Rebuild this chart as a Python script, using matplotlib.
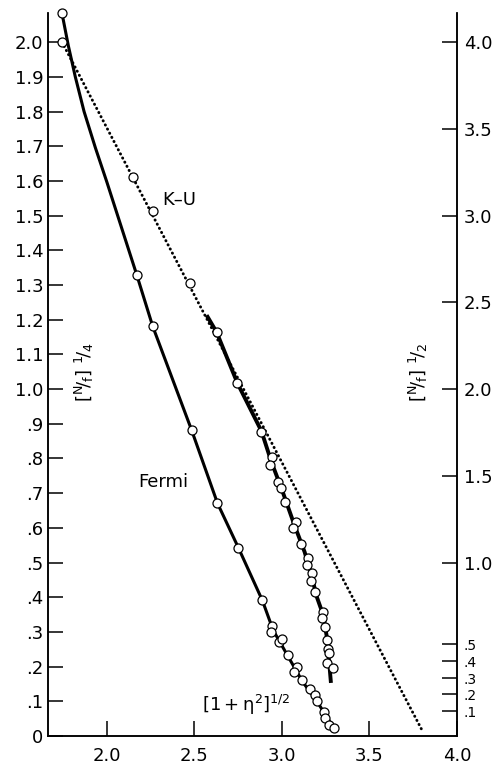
import numpy as np
import matplotlib
matplotlib.use('Agg')
import matplotlib.pyplot as plt

plt.rcParams['font.family'] = 'DejaVu Sans'

# Fermi curve (solid) - line shape and measured points
fermi_line_x = [1.744, 1.78, 1.82, 1.87, 1.935, 2.0, 2.171, 2.262, 2.484,
                2.632, 2.752, 2.889, 2.95, 3.04, 3.12, 3.2, 3.30]
fermi_line_y = [2.083, 1.99, 1.90, 1.80, 1.695, 1.597, 1.329, 1.181, 0.882,
                0.671, 0.542, 0.390, 0.305, 0.225, 0.155, 0.100, 0.020]
fermi_pts_x = [1.744, 2.171, 2.262, 2.484, 2.632, 2.752, 2.889, 2.946, 2.940, 2.986, 3.003,
               3.037, 3.088, 3.071, 3.117, 3.162, 3.191, 3.202, 3.242, 3.248, 3.271, 3.299]
fermi_pts_y = [2.083, 1.329, 1.181, 0.882, 0.671, 0.542, 0.392, 0.317, 0.300, 0.271, 0.280,
               0.233, 0.199, 0.184, 0.161, 0.135, 0.118, 0.101, 0.069, 0.052, 0.032, 0.023]

# K-U (dotted straight line)
ku_line_x = [1.744, 3.80]
ku_line_y = [2.0, 0.017]
ku_pts_x = [1.744, 2.148, 2.262, 2.473, 2.627]
ku_pts_y = [2.0, 1.611, 1.513, 1.305, 1.164]

# [N/f]^1/2 curve (thick solid, right axis)
mid_line_x = [2.57, 2.627, 2.746, 2.883, 2.94, 3.0, 3.07, 3.13, 3.17, 3.20, 3.235, 3.255, 3.265, 3.272, 3.28]
mid_line_y = [1.213, 1.164, 1.017, 0.879, 0.79, 0.71, 0.61, 0.53, 0.46, 0.40, 0.35, 0.29, 0.24, 0.20, 0.153]
mid_pts_x = [2.746, 2.883, 2.946, 2.934, 2.980, 2.997, 3.020, 3.083, 3.066, 3.111, 3.151, 3.145,
             3.174, 3.168, 3.191, 3.236, 3.231, 3.248, 3.259, 3.265, 3.271, 3.259, 3.293]
mid_pts_y = [1.017, 0.876, 0.804, 0.781, 0.732, 0.715, 0.674, 0.617, 0.599, 0.553, 0.513, 0.493,
             0.470, 0.447, 0.415, 0.357, 0.340, 0.314, 0.277, 0.251, 0.239, 0.210, 0.196]

left_ticks = [0.0, 0.1, 0.2, 0.3, 0.4, 0.5, 0.6, 0.7, 0.8, 0.9, 1.0, 1.1, 1.2, 1.3, 1.4, 1.5,
              1.6, 1.7, 1.8, 1.9, 2.0]
left_labels = ['0', '.1', '.2', '.3', '.4', '.5', '.6', '.7', '.8', '.9', '1.0', '1.1', '1.2',
               '1.3', '1.4', '1.5', '1.6', '1.7', '1.8', '1.9', '2.0']
right_major = [1.0, 1.5, 2.0, 2.5, 3.0, 3.5, 4.0]
right_small_pos = [0.144, 0.242, 0.334, 0.432, 0.53]
right_small_labels = ['.1', '.2', '.3', '.4', '.5']
x_ticks = [2.0, 2.5, 3.0, 3.5, 4.0]

fig = plt.figure(figsize=(4.97, 7.66), dpi=100)
ax = fig.add_axes([48/497, 30/766, 409/497, 723/766])

ax.plot(fermi_line_x, fermi_line_y, color='k', lw=2.2, solid_capstyle='butt',
        solid_joinstyle='round', zorder=3)
ax.plot(ku_line_x, ku_line_y, color='k', lw=2.1, linestyle=(0, (0.1, 1.5)),
        dash_capstyle='round', zorder=3)
ax.plot(mid_line_x, mid_line_y, color='k', lw=2.8, solid_capstyle='butt',
        solid_joinstyle='round', zorder=3)

mk = dict(linestyle='none', marker='o', ms=6.5, mfc='white', mec='k', mew=0.9,
          zorder=5, clip_on=False)
ax.plot(fermi_pts_x, fermi_pts_y, **mk)
ax.plot(ku_pts_x, ku_pts_y, **mk)
ax.plot(mid_pts_x, mid_pts_y, **mk)

ax.set_xlim(1.664, 3.995)
ax.set_ylim(0, 2.084)
ax.spines['top'].set_visible(False)
for s in ax.spines.values():
    s.set_linewidth(1.1)

ax.set_xticks(x_ticks)
ax.set_xticklabels(['%.1f' % v for v in x_ticks])
ax.set_yticks(left_ticks)
ax.set_yticklabels(left_labels)
ax.tick_params(axis='both', direction='in', length=11, width=1.1, labelsize=13)
ax.tick_params(axis='y', pad=3.5)
ax.tick_params(axis='x', pad=8)

ax2 = ax.twinx()
ax2.set_ylim(0, 2 * 2.084)
ax2.spines['top'].set_visible(False)
for s in ax2.spines.values():
    s.set_linewidth(1.1)
ax2.set_yticks(right_major)
ax2.set_yticklabels(['%.1f' % v for v in right_major])
ax2.set_yticks(right_small_pos, minor=True)
ax2.set_yticklabels(right_small_labels, minor=True)
ax2.tick_params(axis='y', which='major', direction='in', length=11, width=1.1,
                labelsize=13, pad=5)
ax2.tick_params(axis='y', which='minor', direction='in', length=11, width=1.1,
                labelsize=10, pad=5)

ax.text(2.319, 1.545, 'K\u2013U', fontsize=13, va='center', ha='left')
ax.text(2.182, 0.732, 'Fermi', fontsize=13, va='center', ha='left')
ax.text(2.541, 0.089, r'$\mathregular{[1+\eta^2]^{1/2}}$', fontsize=13, va='center', ha='left')
ax.text(0.09, 0.503, r'$\mathregular{[^{N}\!/_{f}]\ ^{1}\!/_{4}}$', transform=ax.transAxes,
        rotation=90, fontsize=13, ha='center', va='center')
ax.text(0.905, 0.503, r'$\mathregular{[^{N}\!/_{f}]\ ^{1}\!/_{2}}$', transform=ax.transAxes,
        rotation=90, fontsize=13, ha='center', va='center')

fig.savefig('out.png', dpi=100)
